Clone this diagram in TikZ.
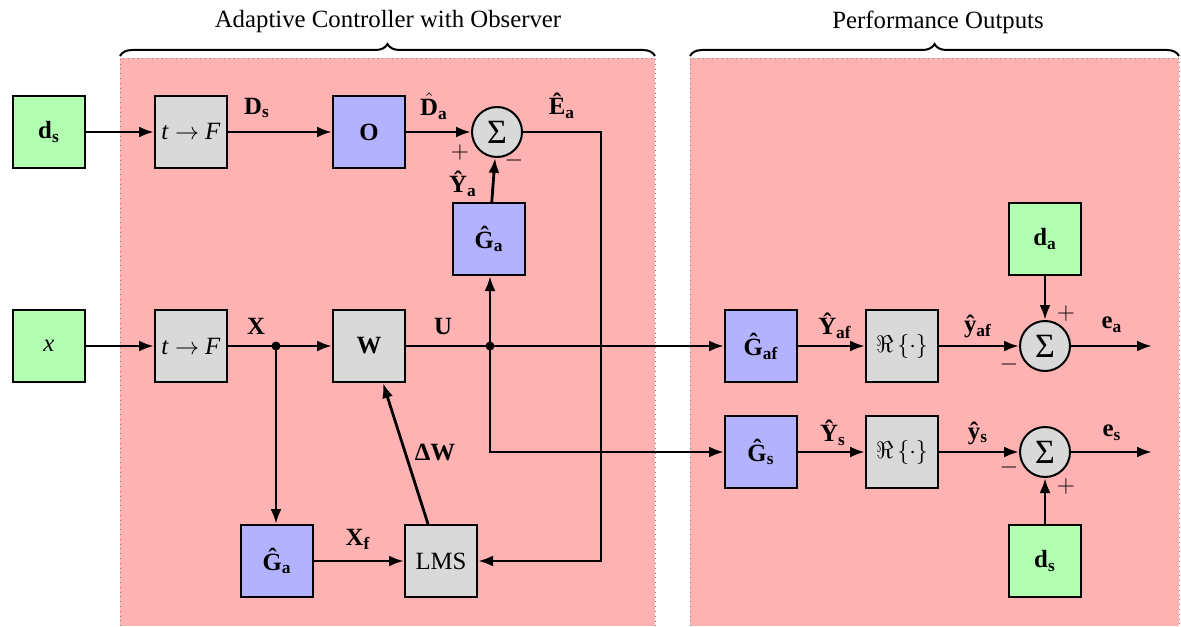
\documentclass[tikz,border=0pt]{standalone}
\usepackage{amsmath}
\usepackage{fontspec}
\setmainfont{Liberation Serif}
\usetikzlibrary{arrows.meta,decorations.pathreplacing,calc}
\newcommand\bsub[2]{\textbf{#1}$_{\textbf{#2}}$}
\newcommand\hD{$\hat{\text{\textbf{D}}}$}
\begin{document}
\begin{tikzpicture}[x=0.5pt,y=-0.5pt,
 font=\fontsize{12.4}{14}\selectfont,
 blk/.style={draw,line width=1pt,minimum size=36pt,inner sep=0pt},
 gbox/.style={blk,fill=green!30},
 bbox/.style={blk,fill=blue!30},
 ybox/.style={blk,fill=gray!30},
 sumc/.style={draw,circle,line width=1pt,fill=gray!30,minimum size=25pt,inner sep=0pt,font=\fontsize{17}{18}\selectfont},
 wire/.style={line width=1.4pt},
 arr/.style={wire,-{Latex[length=7.5pt,width=5.5pt]}},
 lbl/.style={inner sep=1pt},
 sgn/.style={inner sep=0pt,font=\fontsize{13}{14}\selectfont},
 jdot/.style={circle,fill,inner sep=0pt,minimum size=4.5pt},
 region/.style={fill=red!30},
 rborder/.style={draw=gray,dotted,line width=0.4pt},
 brc/.style={decorate,decoration={brace,amplitude=6pt},line width=1pt}]
\useasboundingbox (0,0) rectangle (1181,626);
\fill[white] (0,0) rectangle (1181,626);
% regions
\fill[region] (120,58) rectangle (655,626);
\fill[region] (690,58) rectangle (1179,626);
\draw[rborder] (120,626) -- (120,58) -- (655,58) -- (655,626);
\draw[rborder] (690,626) -- (690,58) -- (1179,58) -- (1179,626);
\draw[brc] (120,56) -- (655,56);
\draw[brc] (690,56) -- (1179,56);
\node (t1) at (388,22) {Adaptive Controller with Observer};
\node (t2) at (938,22) {Performance Outputs};
% nodes
\node[gbox] (ds1) at (49,132) {\bsub{d}{s}};
\node[ybox] (tf1) at (191,132) {\textit{t} $\rightarrow$ \textit{F}};
\node[bbox] (O) at (369,132) {\textbf{O}};
\node[sumc] (s1) at (497,132) {Σ};
\node[bbox] (Ga1) at (489,239) {\bsub{\^G}{a}};
\node[gbox] (xin) at (49,346) {\textit{x}};
\node[ybox] (tf2) at (191,346) {\textit{t} $\rightarrow$ \textit{F}};
\node[ybox] (W) at (369,346) {\textbf{W}};
\coordinate (jX) at (276,346);
\coordinate (jU) at (490,346);
\node[bbox] (Gaf) at (761,346) {\bsub{\^G}{af}};
\node[ybox] (Re1) at (902,346) {$\Re\left\{\cdot\right\}$};
\node[sumc] (s2) at (1045,346) {Σ};
\node[gbox] (da) at (1045,239) {\bsub{d}{a}};
\coordinate (ea) at (1152,346);
\node[bbox] (Gs) at (761,452) {\bsub{\^G}{s}};
\node[ybox] (Re2) at (902,452) {$\Re\left\{\cdot\right\}$};
\node[sumc] (s3) at (1045,452) {Σ};
\node[gbox] (ds2) at (1045,561) {\bsub{d}{s}};
\coordinate (es) at (1152,452);
\node[bbox] (Ga2) at (277,561) {\bsub{\^G}{a}};
\node[ybox] (LMS) at (441,561) {LMS};
\coordinate (Ec) at (601,132);
% connectors
\draw[arr] (ds1) -- (tf1);
\draw[arr] (tf1) -- (O);
\draw[arr] (O) -- (s1);
\draw[arr] (Ga1) -- (s1);
\draw[arr] (s1.east) -- (Ec) |- (LMS.east);
\draw[arr] (xin) -- (tf2);
\draw[arr] (tf2) -- (W);
\draw[arr] (jX) -- (jX |- Ga2.north);
\draw[arr] (W) -- (Gaf);
\draw[arr] (jU) -- (jU |- Ga1.south);
\draw[arr] (jU) |- (Gs);
\draw[arr] (Ga2) -- (LMS);
\draw[arr] ($(LMS.north)+(-13,0)$) -- ($(W.south)+(14,0)$);
\draw[arr] (Gaf) -- (Re1);
\draw[arr] (Re1) -- (s2);
\draw[arr] (s2) -- (ea);
\draw[arr] (da) -- (s2);
\draw[arr] (Gs) -- (Re2);
\draw[arr] (Re2) -- (s3);
\draw[arr] (s3) -- (es);
\draw[arr] (ds2) -- (s3);
\node[jdot] (dX) at (jX) {};
\node[jdot] (dU) at (jU) {};
% labels
\node[lbl] (lDs) at (257,108) {\bsub{D}{s}};
\node[lbl] (lDa) at (434,106) {\hD$_{\textbf{a}}$};
\node[lbl] (lEa) at (562,106) {\bsub{\^E}{a}};
\node[sgn] (p1) at (460,152) {$+$};
\node[sgn] (m1) at (514,160) {$-$};
\node[lbl] (lYa) at (463,184) {\bsub{\^Y}{a}};
\node[lbl] (lX) at (256,326) {\textbf{X}};
\node[lbl] (lU) at (443,326) {\textbf{U}};
\node[lbl] (lXf) at (358,539) {\bsub{X}{f}};
\node[lbl] (lDW) at (435,452) {\textbf{ΔW}};
\node[lbl] (lYaf) at (835,326) {\bsub{\^Y}{af}};
\node[lbl] (lyaf) at (978,326) {\bsub{\^y}{af}};
\node[lbl] (lea) at (1112,325) {\bsub{e}{a}};
\node[sgn] (p2) at (1066,313) {$+$};
\node[sgn] (m2) at (1009,364) {$-$};
\node[lbl] (lYs) at (833,433) {\bsub{\^Y}{s}};
\node[lbl] (lys) at (978,433) {\bsub{\^y}{s}};
\node[lbl] (les) at (1112,433) {\bsub{e}{s}};
\node[sgn] (m3) at (1009,467) {$-$};
\node[sgn] (p3) at (1066,486) {$+$};
\end{tikzpicture}
\end{document}
